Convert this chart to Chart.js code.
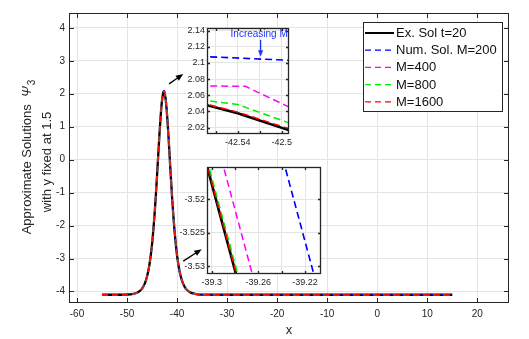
<!DOCTYPE html>
<html>
<head>
<meta charset="utf-8">
<script src="https://cdn.jsdelivr.net/npm/chart.js@4.4.1/dist/chart.umd.min.js"></script>
<style>
  body { margin: 0; background: #fff; }
  #wrap { position: relative; width: 529px; height: 339px; }
  #wrap canvas { position: absolute; }
</style>
</head>
<body>
<div id="wrap">
  <canvas id="mainChart" width="529" height="339" style="left:0;top:0"></canvas>
  <canvas id="inset1" width="125" height="130" style="left:170px;top:20px"></canvas>
  <canvas id="inset2" width="160" height="132" style="left:170px;top:158px"></canvas>
</div>
<script>
  // main plot: x samples and the five curves
  const xValues = [-55, -52, -50, -49, -48, -47.5, -47, -46.5, -46, -45.5,
    -45, -44.5, -44.25, -44, -43.75, -43.5, -43.25, -43, -42.75, -42.63,
    -42.5, -42.25, -42, -41.75, -41.5, -41.25, -41, -40.75, -40.5, -40,
    -39.5, -39, -38.5, -38, -37.5, -37, -36, -35, -34, -32,
    -30, -25, -20, -15, -10, -5, 0, 5, 10, 15];

  const exactY = [-4.1, -4.1, -4.093, -4.079, -4.037, -3.991, -3.912, -3.776, -3.546, -3.166,
    -2.563, -1.666, -1.105, -0.48, 0.176, 0.817, 1.382, 1.807, 2.033, 2.06,
    2.028, 1.793, 1.362, 0.792, 0.149, -0.506, -1.128, -1.688, -2.171, -2.909,
    -3.386, -3.68, -3.856, -3.958, -4.018, -4.053, -4.085, -4.095, -4.098, -4.1,
    -4.1, -4.1, -4.1, -4.1, -4.1, -4.1, -4.1, -4.1, -4.1, -4.1];

  const num200Y = [-4.1, -4.1, -4.093, -4.079, -4.037, -3.991, -3.912, -3.776, -3.546, -3.166,
    -2.563, -1.666, -1.105, -0.48, 0.176, 0.82, 1.39, 1.83, 2.07, 2.10,
    2.08, 1.84, 1.40, 0.82, 0.17, -0.49, -1.115, -1.678, -2.163, -2.902,
    -3.381, -3.676, -3.853, -3.956, -4.017, -4.052, -4.085, -4.095, -4.1, -4.105,
    -4.11, -4.11, -4.115, -4.112, -4.106, -4.1, -4.1, -4.1, -4.1, -4.1];

  const num400Y = [-4.1, -4.1, -4.093, -4.079, -4.037, -3.991, -3.912, -3.776, -3.546, -3.166,
    -2.563, -1.666, -1.105, -0.48, 0.176, 0.818, 1.386, 1.82, 2.05, 2.08,
    2.05, 1.81, 1.375, 0.80, 0.155, -0.5, -1.124, -1.685, -2.169, -2.907,
    -3.385, -3.679, -3.855, -3.957, -4.018, -4.053, -4.085, -4.095, -4.098, -4.1,
    -4.1, -4.1, -4.1, -4.1, -4.1, -4.1, -4.1, -4.1, -4.1, -4.1];

  const num800Y = [-4.1, -4.1, -4.093, -4.079, -4.037, -3.991, -3.912, -3.776, -3.546, -3.166,
    -2.563, -1.666, -1.105, -0.48, 0.176, 0.817, 1.383, 1.81, 2.04, 2.065,
    2.035, 1.798, 1.365, 0.794, 0.151, -0.505, -1.127, -1.687, -2.17, -2.908,
    -3.386, -3.68, -3.856, -3.958, -4.018, -4.053, -4.085, -4.095, -4.098, -4.1,
    -4.1, -4.1, -4.1, -4.1, -4.1, -4.1, -4.1, -4.1, -4.1, -4.1];

  const num1600Y = [-4.1, -4.1, -4.093, -4.079, -4.037, -3.991, -3.912, -3.776, -3.546, -3.166,
    -2.563, -1.666, -1.105, -0.48, 0.176, 0.817, 1.382, 1.807, 2.035, 2.062,
    2.03, 1.794, 1.363, 0.793, 0.15, -0.506, -1.128, -1.688, -2.171, -2.909,
    -3.386, -3.68, -3.856, -3.958, -4.018, -4.053, -4.085, -4.095, -4.098, -4.1,
    -4.1, -4.1, -4.1, -4.1, -4.1, -4.1, -4.1, -4.1, -4.1, -4.1];

  const xTicks = [-60, -50, -40, -30, -20, -10, 0, 10, 20];
  const yTicks = [-4, -3, -2, -1, 0, 1, 2, 3, 4];

  // inset near the peak
  const peakExactX = [-42.575, -42.54, -42.49];
  const peakExactY = [2.0502, 2.0378, 2.0153];
  const peak1600X = [-42.575, -42.54, -42.49];
  const peak1600Y = [2.0515, 2.0392, 2.0172];
  const peak800X = [-42.575, -42.54, -42.49];
  const peak800Y = [2.0545, 2.0486, 2.0242];
  const peak400X = [-42.575, -42.533, -42.49];
  const peak400Y = [2.0716, 2.0711, 2.0433];
  const peak200X = [-42.575, -42.49];
  const peak200Y = [2.1081, 2.1030];
  const inset1XTicks = [-42.56, -42.54, -42.52, -42.5];
  const inset1XLabels = ['', '-42.54', '', '-42.5'];
  const inset1YTicks = [2.02, 2.04, 2.06, 2.08, 2.1, 2.12, 2.14];
  const inset1YLabels = ['2.02', '2.04', '2.06', '2.08', '2.1', '2.12', '2.14'];

  // inset on the right flank
  const flankY = [-3.514, -3.533];
  const flankExactX = [-39.3057, -39.2764];
  const flank1600X = [-39.3053, -39.2760];
  const flank800X = [-39.3042, -39.2749];
  const flank400X = [-39.2917, -39.2624];
  const flank200X = [-39.2390, -39.2097];
  const inset2XTicks = [-39.3, -39.28, -39.26, -39.24, -39.22];
  const inset2XLabels = ['-39.3', '', '-39.26', '', '-39.22'];
  const inset2YTicks = [-3.53, -3.525, -3.52];
  const inset2YLabels = ['-3.53', '-3.525', '-3.52'];

  const fam = "'Liberation Sans', Arial, sans-serif";
  const textColor = '#262626';
  const gridColor = '#e4e4e4';
  const colors = { exact: '#000000', m200: '#0000ff', m400: '#ff00ff', m800: '#00ee00', m1600: '#ff0000' };

  Chart.defaults.font.family = fam;
  Chart.defaults.color = textColor;

  function lineSet(label, xs, ys, color, width, dash, order, smooth) {
    return {
      label: label,
      data: xs.map((x, i) => ({ x: x, y: ys[i] })),
      borderColor: color,
      borderWidth: width,
      borderDash: dash,
      pointRadius: 0,
      fill: false,
      order: order,
      cubicInterpolationMode: smooth ? 'monotone' : 'default',
      tension: 0
    };
  }

  function axis(min, max, tickValues, labels, size, pad, fontSize, horizontal) {
    return {
      type: 'linear',
      min: min,
      max: max,
      afterBuildTicks: s => { s.ticks = tickValues.map(v => ({ value: v })); },
      afterFit: s => {
        if (horizontal) s.height = size; else s.width = size;
        s.paddingLeft = 0; s.paddingRight = 0; s.paddingTop = 0; s.paddingBottom = 0;
      },
      grid: { color: gridColor, drawTicks: false },
      border: { display: false },
      ticks: {
        padding: pad,
        autoSkip: false,
        maxRotation: 0,
        color: textColor,
        font: { size: fontSize },
        callback: (v, i) => labels[i]
      }
    };
  }

  function drawFrame(chart, tickLen, width) {
    const ctx = chart.ctx;
    const a = chart.chartArea;
    const x = chart.scales.x, y = chart.scales.y;
    ctx.save();
    ctx.strokeStyle = textColor;
    ctx.lineWidth = width;
    ctx.beginPath();
    x.ticks.forEach(t => {
      const px = Math.round(x.getPixelForValue(t.value)) + 0.5;
      ctx.moveTo(px, a.bottom); ctx.lineTo(px, a.bottom - tickLen);
      ctx.moveTo(px, a.top); ctx.lineTo(px, a.top + tickLen);
    });
    y.ticks.forEach(t => {
      const py = Math.round(y.getPixelForValue(t.value)) + 0.5;
      ctx.moveTo(a.left, py); ctx.lineTo(a.left + tickLen, py);
      ctx.moveTo(a.right, py); ctx.lineTo(a.right - tickLen, py);
    });
    ctx.stroke();
    ctx.strokeRect(a.left + 0.5, a.top + 0.5, a.right - a.left - 1, a.bottom - a.top - 1);
    ctx.restore();
  }

  function drawArrow(ctx, x1, y1, x2, y2, color, head) {
    const ang = Math.atan2(y2 - y1, x2 - x1);
    ctx.save();
    ctx.strokeStyle = color;
    ctx.fillStyle = color;
    ctx.lineWidth = 1.3;
    ctx.beginPath();
    ctx.moveTo(x1, y1);
    ctx.lineTo(x2 - head * 0.7 * Math.cos(ang), y2 - head * 0.7 * Math.sin(ang));
    ctx.stroke();
    ctx.beginPath();
    ctx.moveTo(x2, y2);
    ctx.lineTo(x2 - head * Math.cos(ang - 0.38), y2 - head * Math.sin(ang - 0.38));
    ctx.lineTo(x2 - head * Math.cos(ang + 0.38), y2 - head * Math.sin(ang + 0.38));
    ctx.closePath();
    ctx.fill();
    ctx.restore();
  }

  const whiteArea = {
    id: 'whiteArea',
    beforeDraw(chart) {
      const a = chart.chartArea;
      chart.ctx.save();
      chart.ctx.fillStyle = '#ffffff';
      if (chart.canvas.id === 'mainChart') chart.ctx.fillRect(0, 0, chart.width, chart.height);
      else chart.ctx.fillRect(a.left, a.top, a.right - a.left, a.bottom - a.top);
      chart.ctx.restore();
    }
  };

  const mainDecor = {
    id: 'mainDecor',
    afterDraw(chart) {
      const ctx = chart.ctx;
      const x = chart.scales.x, y = chart.scales.y;
      drawFrame(chart, 5, 1);

      // axis titles
      ctx.save();
      ctx.fillStyle = textColor;
      ctx.textBaseline = 'middle';
      ctx.font = '13px ' + fam;
      ctx.textAlign = 'center';
      ctx.fillText('x', (chart.chartArea.left + chart.chartArea.right) / 2, 330);

      ctx.save();
      ctx.translate(27, 157);
      ctx.rotate(-Math.PI / 2);
      const part1 = 'Approximate Solutions  ';
      ctx.font = '13px ' + fam;
      const w1 = ctx.measureText(part1).width;
      ctx.font = 'italic 13px ' + fam;
      const wPsi = ctx.measureText('Ψ').width;
      ctx.font = '10px ' + fam;
      const wSub = ctx.measureText('3').width;
      const start = -(w1 + wPsi + wSub + 1) / 2;
      ctx.textAlign = 'left';
      ctx.font = '13px ' + fam;
      ctx.fillText(part1, start, 0);
      ctx.font = 'italic 13px ' + fam;
      ctx.fillText('Ψ', start + w1, 0);
      ctx.font = '10px ' + fam;
      ctx.fillText('3', start + w1 + wPsi + 1, 5);
      ctx.restore();

      ctx.save();
      ctx.translate(47, 162);
      ctx.rotate(-Math.PI / 2);
      ctx.font = '13px ' + fam;
      ctx.textAlign = 'center';
      ctx.fillText('with y fixed at 1.5', 0, 0);
      ctx.restore();
      ctx.restore();

      // pointers to the insets
      drawArrow(ctx, x.getPixelForValue(-41.6), y.getPixelForValue(2.30),
        x.getPixelForValue(-38.76), y.getPixelForValue(2.60), '#000', 8);
      drawArrow(ctx, x.getPixelForValue(-38.76), y.getPixelForValue(-3.08),
        x.getPixelForValue(-35.08), y.getPixelForValue(-2.72), '#000', 8);

      // legend
      const lx = 363, ly = 22, lw = 139, lh = 89;
      ctx.save();
      ctx.fillStyle = '#fff';
      ctx.fillRect(lx, ly, lw, lh);
      ctx.strokeStyle = textColor;
      ctx.lineWidth = 1;
      ctx.strokeRect(lx + 0.5, ly + 0.5, lw, lh);
      ctx.font = '13px ' + fam;
      ctx.textBaseline = 'middle';
      ctx.textAlign = 'left';
      chart.data.datasets.forEach((ds, i) => {
        const ry = ly + 11 + i * 17.2;
        ctx.strokeStyle = ds.borderColor;
        ctx.lineWidth = ds.borderDash.length ? 1.2 : 2;
        ctx.setLineDash(ds.borderDash.length ? [6, 4] : []);
        ctx.beginPath();
        ctx.moveTo(lx + 2, ry);
        ctx.lineTo(lx + 31, ry);
        ctx.stroke();
        ctx.setLineDash([]);
        ctx.fillStyle = '#111';
        ctx.fillText(ds.label, lx + 33, ry + 0.5);
      });
      ctx.restore();
    }
  };

  const insetDecor = {
    id: 'insetDecor',
    afterDraw(chart) {
      drawFrame(chart, 3, 1.3);
      if (chart.canvas.id === 'inset1') {
        const ctx = chart.ctx;
        const x = chart.scales.x, y = chart.scales.y;
        ctx.save();
        ctx.fillStyle = '#2233ff';
        ctx.font = '10px ' + fam;
        ctx.textAlign = 'right';
        ctx.textBaseline = 'middle';
        ctx.fillText('Increasing M', x.getPixelForValue(-42.4945), y.getPixelForValue(2.1357));
        ctx.restore();
        drawArrow(ctx, x.getPixelForValue(-42.5192), y.getPixelForValue(2.1285),
          x.getPixelForValue(-42.5192), y.getPixelForValue(2.1075), '#2233ff', 7);
      }
    }
  };

  new Chart(document.getElementById('mainChart'), {
    type: 'line',
    data: {
      datasets: [
        lineSet('Ex. Sol t=20', xValues, exactY, colors.exact, 2.3, [], 5, true),
        lineSet('Num. Sol. M=200', xValues, num200Y, colors.m200, 1.4, [6, 4], 4, true),
        lineSet('M=400', xValues, num400Y, colors.m400, 1.4, [6, 4], 3, true),
        lineSet('M=800', xValues, num800Y, colors.m800, 1.4, [6, 4], 2, true),
        lineSet('M=1600', xValues, num1600Y, colors.m1600, 1.4, [6, 4], 1, true)
      ]
    },
    options: {
      responsive: false,
      animation: false,
      devicePixelRatio: 1,
      layout: { padding: { top: 13, right: 20, left: 0, bottom: 0 } },
      plugins: { legend: { display: false }, tooltip: { enabled: false } },
      scales: {
        x: axis(-61.6, 26.35, xTicks, xTicks.map(String), 36, 5, 10, true),
        y: axis(-4.35, 4.45, yTicks, yTicks.map(String), 69, 4, 10, false)
      }
    },
    plugins: [whiteArea, mainDecor]
  });

  new Chart(document.getElementById('inset1'), {
    type: 'line',
    data: {
      datasets: [
        lineSet('Ex. Sol t=20', peakExactX, peakExactY, colors.exact, 2.6, [], 5, false),
        lineSet('Num. Sol. M=200', peak200X, peak200Y, colors.m200, 1.6, [7, 4], 4, false),
        lineSet('M=400', peak400X, peak400Y, colors.m400, 1.5, [7, 4], 3, false),
        lineSet('M=800', peak800X, peak800Y, colors.m800, 1.5, [7, 4], 2, false),
        lineSet('M=1600', peak1600X, peak1600Y, colors.m1600, 1.5, [7, 4], 1, false)
      ]
    },
    options: {
      responsive: false,
      animation: false,
      devicePixelRatio: 1,
      layout: { padding: { top: 8, right: 6, left: 0, bottom: 0 } },
      plugins: { legend: { display: false }, tooltip: { enabled: false } },
      scales: {
        x: axis(-42.5679, -42.4934, inset1XTicks, inset1XLabels, 16, 3, 9, true),
        y: axis(2.0122, 2.1431, inset1YTicks, inset1YLabels, 37, 2, 9, false)
      }
    },
    plugins: [whiteArea, insetDecor]
  });

  new Chart(document.getElementById('inset2'), {
    type: 'line',
    data: {
      datasets: [
        lineSet('Ex. Sol t=20', flankExactX, flankY, colors.exact, 2.6, [], 5, false),
        lineSet('Num. Sol. M=200', flank200X, flankY, colors.m200, 1.6, [7, 4], 4, false),
        lineSet('M=400', flank400X, flankY, colors.m400, 1.5, [7, 4], 3, false),
        lineSet('M=800', flank800X, flankY, colors.m800, 1.5, [7, 4], 2, false),
        lineSet('M=1600', flank1600X, flankY, colors.m1600, 1.5, [7, 4], 1, false)
      ]
    },
    options: {
      responsive: false,
      animation: false,
      devicePixelRatio: 1,
      layout: { padding: { top: 9, right: 9, left: 0, bottom: 0 } },
      plugins: { legend: { display: false }, tooltip: { enabled: false } },
      scales: {
        x: axis(-39.304, -39.2063, inset2XTicks, inset2XLabels, 16, 3, 9, true),
        y: axis(-3.53119, -3.51522, inset2YTicks, inset2YLabels, 37, 2, 9, false)
      }
    },
    plugins: [whiteArea, insetDecor]
  });
</script>
</body>
</html>
